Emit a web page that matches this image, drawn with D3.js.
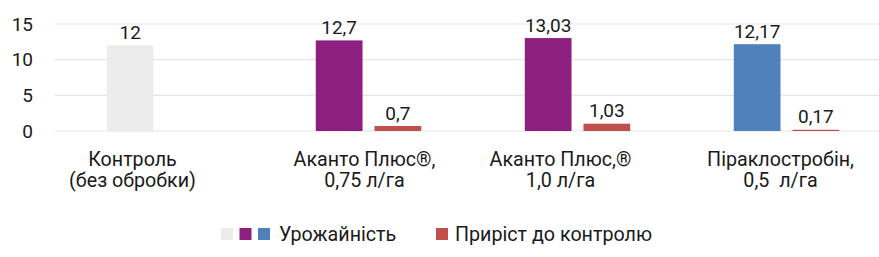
<!DOCTYPE html>
<html>
<head>
<meta charset="utf-8">
<script src="https://cdn.jsdelivr.net/npm/d3@7"></script>
<style>
  body { margin: 0; background: #fff; }
  text { font-family: Roboto, "Noto Sans", sans-serif; fill: #1a1a1a; }
</style>
</head>
<body>
<div id="chart"></div>
<script>
// categories (two lines each)
const categories = [
  ["Контроль", "(без обробки)"],
  ["Аканто Плюс®,", "0,75 л/га"],
  ["Аканто Плюс,®", "1,0 л/га"],
  ["Піраклостробін,", "0,5  л/га"]
];
const yieldValues = [12, 12.7, 13.03, 12.17];
const gainValues = [null, 0.7, 1.03, 0.17];
const yTicks = [0, 5, 10, 15];
const seriesNames = ["Урожайність", "Приріст до контролю"];

// styling
const yieldColors = ["#ececec", "#8c1f7f", "#8c1f7f", "#4f81bd"];
const gainColor = "#c0504d";
const labelNudge = [-27, -4, -17, -6];

const W = 879, H = 257;
const fs = 19;
const fsText = 19.7;

let svg = d3.select("#chart").append("svg")
  .attr("width", W).attr("height", H)

svg.append("rect").attr("width", W).attr("height", H).attr("fill", "#fff")

let x0 = d3.scaleBand()
  .domain(d3.range(categories.length))
  .range([55, 891])

let x1 = d3.scaleBand()
  .domain(["y", "g"])
  .range([0, x0.bandwidth()])
  .paddingInner(0.204)
  .paddingOuter(0.882)

let y = d3.scaleLinear().domain([0, 15]).range([131, 24])

// gridlines
svg.append("g").selectAll("line")
  .data(yTicks)
  .enter().append("line")
  .attr("x1", 55).attr("x2", W)
  .attr("y1", d => y(d)).attr("y2", d => y(d))
  .attr("stroke", "#e6e6e6")
  .attr("stroke-width", 1.2)

// y tick labels
svg.append("g").selectAll("text")
  .data(yTicks)
  .enter().append("text")
  .attr("x", 33)
  .attr("y", d => y(d) + 6.5)
  .attr("text-anchor", "end")
  .style("font-size", fs + "px")
  .text(d => d)

const fmt = v => String(v).replace(".", ",")

// yield bars
svg.append("g").selectAll("rect")
  .data(yieldValues)
  .enter().append("rect")
  .attr("x", (d, i) => x0(i) + x1("y"))
  .attr("width", x1.bandwidth())
  .attr("y", d => y(d))
  .attr("height", d => y(0) - y(d))
  .attr("fill", (d, i) => yieldColors[i])

svg.append("g").selectAll("text")
  .data(yieldValues)
  .enter().append("text")
  .attr("x", (d, i) => x0(i) + x1("y") + x1.bandwidth() / 2)
  .attr("y", d => y(d) - 6.5)
  .attr("text-anchor", "middle")
  .style("font-size", fs + "px")
  .text(fmt)

// gain bars
let gains = gainValues.map((v, i) => ({ v: v, i: i })).filter(d => d.v != null)

svg.append("g").selectAll("rect")
  .data(gains)
  .enter().append("rect")
  .attr("x", d => x0(d.i) + x1("g"))
  .attr("width", x1.bandwidth())
  .attr("y", d => y(d.v))
  .attr("height", d => y(0) - y(d.v))
  .attr("fill", gainColor)

svg.append("g").selectAll("text")
  .data(gains)
  .enter().append("text")
  .attr("x", d => x0(d.i) + x1("g") + x1.bandwidth() / 2)
  .attr("y", d => y(d.v) - 6.5)
  .attr("text-anchor", "middle")
  .style("font-size", fs + "px")
  .text(d => fmt(d.v))

// category labels
let cat = svg.append("g").selectAll("text")
  .data(categories)
  .enter().append("text")
  .attr("text-anchor", "middle")
  .style("font-size", fsText + "px")
  .style("white-space", "pre")

cat.selectAll("tspan")
  .data((d, i) => d.map(t => ({ t: t, i: i })))
  .enter().append("tspan")
  .attr("x", d => x0(d.i) + x0.bandwidth() / 2 + labelNudge[d.i])
  .attr("y", (d, j) => 166 + j * 21)
  .text(d => d.t)

// legend
let leg = svg.append("g")
let sq = 12
let legY = 228
;[yieldColors[0], yieldColors[1], yieldColors[3]].forEach((c, k) => {
  leg.append("rect").attr("x", 221 + k * 18.5).attr("y", legY)
    .attr("width", sq).attr("height", sq).attr("fill", c)
})
leg.append("text").attr("x", 279).attr("y", legY + 12.5)
  .style("font-size", fsText + "px").text(seriesNames[0])
leg.append("rect").attr("x", 436).attr("y", legY)
  .attr("width", sq).attr("height", sq).attr("fill", gainColor)
leg.append("text").attr("x", 455).attr("y", legY + 12.5)
  .style("font-size", fsText + "px").text(seriesNames[1])
</script>
</body>
</html>
